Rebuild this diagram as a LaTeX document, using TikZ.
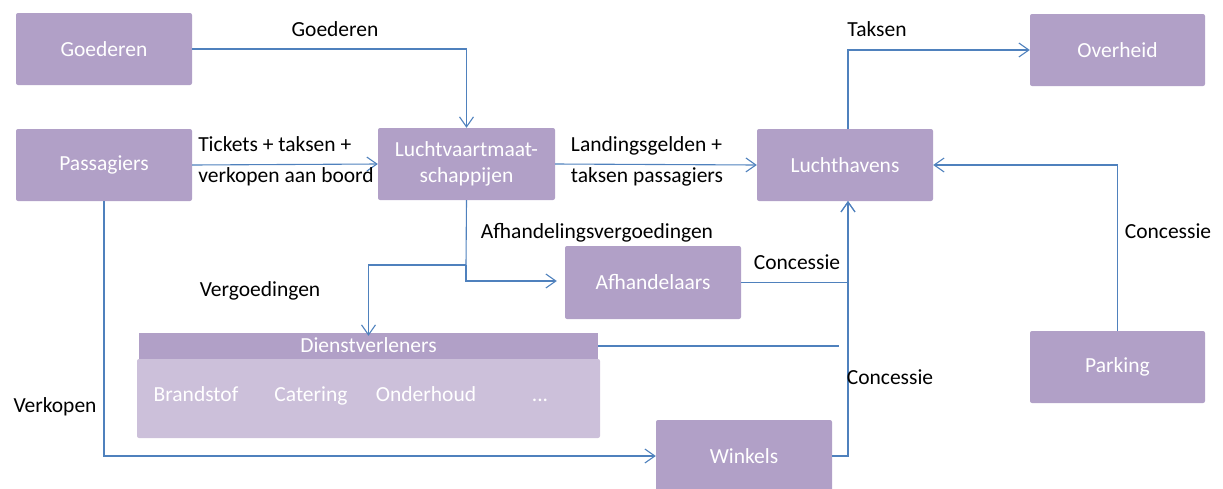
\documentclass[tikz,border=0pt]{standalone}
\usepackage{fontspec}
\setmainfont{Carlito}
\usetikzlibrary{arrows.meta}
\definecolor{boxdark}{HTML}{B1A0C7}
\definecolor{boxlight}{HTML}{CCC0DA}
\definecolor{linec}{HTML}{4F81BD}
\tikzset{
  box/.style={draw=none, fill=boxdark, rounded corners=2pt, text=white, align=center,
    minimum width=176pt, minimum height=72pt, inner sep=0pt, font=\fontsize{21.5}{26}\selectfont},
  lbl/.style={text=black, inner sep=0pt, align=center, text height=17pt, text depth=3pt, font=\fontsize{21.5}{31}\selectfont},
  wlbl/.style={text=white, inner sep=0pt, text height=16pt, text depth=4pt, font=\fontsize{21.5}{26}\selectfont},
  conn/.style={draw=linec, line width=1.1pt, -{Straight Barb[length=10pt,width=14pt,line width=1.1pt]}},
  plain/.style={draw=linec, line width=1.1pt}
}
\begin{document}
\begin{tikzpicture}[x=1pt,y=-1pt]
\useasboundingbox (0,0) rectangle (1223,488);
\clip (0,0) rectangle (1223,488);
% boxes
\node[box] (goed) at (104,49) {Goederen};
\node[box] (pass) at (104,165) {Passagiers};
\node[box, minimum width=177pt] (lucht) at (466.5,164) {Luchtvaartmaat-\\schappijen};
\node[box] (havens) at (845,165) {Luchthavens};
\node[box, minimum width=175pt] (overh) at (1117.5,50) {Overheid};
\node[box, minimum width=176pt, minimum height=73pt] (afh) at (653,282.5) {Afhandelaars};
\node[box, minimum width=175pt] (park) at (1117.5,367) {Parking};
\node[box] (win) at (744,456) {Winkels};
% Dienstverleners
\node[draw=none, fill=boxlight, rounded corners=2pt, minimum width=463pt, minimum height=79pt, inner sep=0pt] (db) at (368.5,398.5) {};
\node[draw=none, fill=boxdark, minimum width=459pt, minimum height=26pt, inner sep=0pt, text=white, text height=16pt, text depth=4pt, font=\fontsize{21.5}{26}\selectfont] (dh) at (368.5,346) {Dienstverleners};
\node[wlbl] (t1) at (196,395) {Brandstof};
\node[wlbl] (t2) at (311,395) {Catering};
\node[wlbl] (t3) at (426,395) {Onderhoud};
\node[wlbl] (t4) at (540,395) {...};
% helper coordinates
\coordinate (j1) at (466,265);
\coordinate (hs) at (848,201);
\coordinate (hn) at (848,129);
\coordinate (dend) at (839,346);
% connectors
\draw[conn] (goed.east) -| (lucht.north);
\draw[conn] (pass.east) -- (lucht.west);
\draw[conn] (lucht.east) -- (havens.west);
\draw[conn] (hn) |- (overh.west);
\draw[conn] (park.north) |- (havens.east);
\draw[plain] (lucht.south) -- (j1);
\draw[conn] (j1) -| ([yshift=-3pt]dh.north);
\draw[conn, shorten >=8pt] (j1) |- ([yshift=1.5pt]afh.west);
\draw[conn] (afh.east) -| (hs);
\draw[conn] (win.east) -| (hs);
\draw[plain] (dh.east) -- (dend);
\draw[conn] (pass.south) |- (win.west);
% labels
\node[lbl] (l1) at (335,29) {Goederen};
\node[lbl, align=left, text height=, text depth=] (l2) at (286,161) {Tickets + taksen +\\verkopen aan boord};
\node[lbl, align=left, text height=, text depth=] (l3) at (647,161) {Landingsgelden +\\taksen passagiers};
\node[lbl] (l4) at (877,29) {Taksen};
\node[lbl] (l5) at (1168,231) {Concessie};
\node[lbl] (l6) at (597,231) {Afhandelingsvergoedingen};
\node[lbl] (l7) at (260,289) {Vergoedingen};
\node[lbl] (l8) at (797,262) {Concessie};
\node[lbl] (l9) at (890,377) {Concessie};
\node[lbl] (l10) at (55,405) {Verkopen};
\end{tikzpicture}
\end{document}
